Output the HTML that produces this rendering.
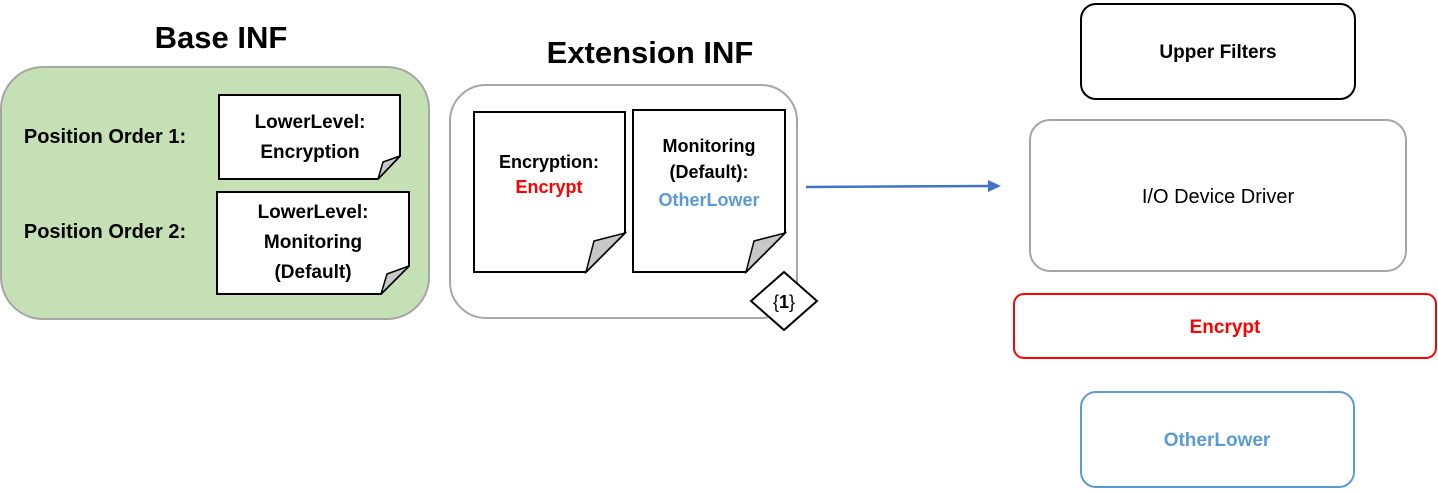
<!DOCTYPE html>
<html><head><meta charset="utf-8"><style>
html,body{margin:0;padding:0;background:#fff}
svg text{font-family:"Liberation Sans",sans-serif}
</style></head><body>
<svg width="1438" height="489" viewBox="0 0 1438 489" xmlns="http://www.w3.org/2000/svg">
<text x="221" y="48" font-size="31" font-weight="bold" text-anchor="middle">Base INF</text>
<text x="650" y="63" font-size="31" font-weight="bold" text-anchor="middle">Extension INF</text>
<rect x="1" y="67" width="428" height="252" rx="42" fill="#c5e0b4" stroke="#a6a6a6" stroke-width="2"/>
<g font-size="20" font-weight="bold" text-anchor="middle">
<text x="105" y="143">Position Order 1:</text>
<text x="105" y="238">Position Order 2:</text>
</g>
<path d="M219 95 H400 V156 L378 179 H219 Z" fill="#fff" stroke="#000" stroke-width="2"/>
<path d="M378 179 L383 162 L400 156 Z" fill="#c8c8c8" stroke="#000" stroke-width="1.5"/>
<path d="M217 192 H409 V266 L381 294 H217 Z" fill="#fff" stroke="#000" stroke-width="2"/>
<path d="M381 294 L387 274 L409 266 Z" fill="#c8c8c8" stroke="#000" stroke-width="1.5"/>
<g font-size="19" font-weight="bold" text-anchor="middle">
<text x="310" y="128">LowerLevel:</text>
<text x="310" y="158">Encryption</text>
<text x="313" y="218">LowerLevel:</text>
<text x="313" y="248">Monitoring</text>
<text x="313" y="278">(Default)</text>
</g>
<rect x="450" y="85" width="347" height="233" rx="36" fill="#fff" stroke="#a6a6a6" stroke-width="2"/>
<path d="M474 112 H625 V233 L586 272 H474 Z" fill="#fff" stroke="#000" stroke-width="2"/>
<path d="M586 272 L594 241 L625 233 Z" fill="#c8c8c8" stroke="#000" stroke-width="1.5"/>
<path d="M633 110 H785 V233 L746 272 H633 Z" fill="#fff" stroke="#000" stroke-width="2"/>
<path d="M746 272 L754 241 L785 233 Z" fill="#c8c8c8" stroke="#000" stroke-width="1.5"/>
<g font-size="18" font-weight="bold" text-anchor="middle">
<text x="549" y="168">Encryption:</text>
<text x="549" y="193" fill="#ff0000">Encrypt</text>
<text x="709" y="152">Monitoring</text>
<text x="709" y="178">(Default):</text>
<text x="709" y="206" fill="#5b9bd5">OtherLower</text>
</g>
<path d="M784 272 L817 301 L784 330 L751 301 Z" fill="#fff" stroke="#000" stroke-width="2"/>
<text x="784" y="308" font-size="18" text-anchor="middle">{<tspan font-weight="bold">1</tspan>}</text>
<line x1="806" y1="187" x2="990" y2="186" stroke="#4472c4" stroke-width="2.5"/>
<path d="M1001 186 L988 180 L988 192 Z" fill="#4472c4"/>
<rect x="1081" y="4" width="274" height="95" rx="15" fill="#fff" stroke="#000" stroke-width="2"/>
<text x="1218" y="58" font-size="19" font-weight="bold" text-anchor="middle">Upper Filters</text>
<rect x="1030" y="120" width="376" height="151" rx="20" fill="#fff" stroke="#a6a6a6" stroke-width="2"/>
<text x="1218" y="203" font-size="20" text-anchor="middle">I/O Device Driver</text>
<rect x="1014" y="294" width="422" height="64" rx="10" fill="#fff" stroke="#ff0000" stroke-width="2"/>
<text x="1225" y="333" font-size="19" font-weight="bold" fill="#ff0000" text-anchor="middle">Encrypt</text>
<rect x="1081" y="392" width="273" height="95" rx="15" fill="#fff" stroke="#5b9bd5" stroke-width="2"/>
<text x="1217" y="446" font-size="19" font-weight="bold" fill="#5b9bd5" text-anchor="middle">OtherLower</text>
</svg>
</body></html>
